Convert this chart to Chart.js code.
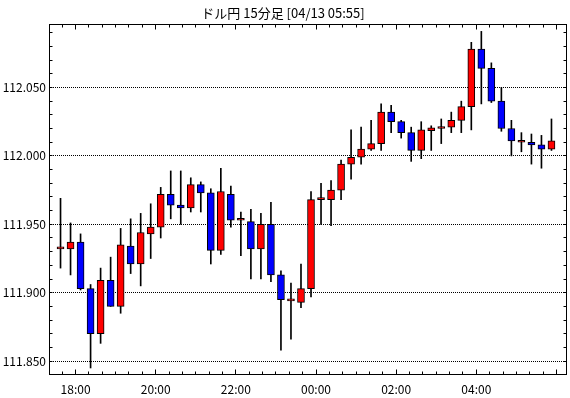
<!DOCTYPE html>
<html>
<head>
<meta charset="utf-8">
<script src="https://cdn.jsdelivr.net/npm/chart.js@4.4.0/dist/chart.umd.min.js"></script>
<style>
  html, body { margin: 0; padding: 0; background: #fff; }
  #chart { display: block; }
</style>
</head>
<body>
<canvas id="chart" width="570" height="398"></canvas>
<script>
const title = "ドル円 15分足 [04/13 05:55]"

// start of each 15 minute bar
const times = [
  "17:30", "17:45", "18:00", "18:15", "18:30", "18:45", "19:00", "19:15", "19:30", "19:45",
  "20:00", "20:15", "20:30", "20:45", "21:00", "21:15", "21:30", "21:45", "22:00", "22:15",
  "22:30", "22:45", "23:00", "23:15", "23:30", "23:45", "00:00", "00:15", "00:30", "00:45",
  "01:00", "01:15", "01:30", "01:45", "02:00", "02:15", "02:30", "02:45", "03:00", "03:15",
  "03:30", "03:45", "04:00", "04:15", "04:30", "04:45", "05:00", "05:15", "05:30", "05:45"
]
const opens = [
  111.932, 111.932, 111.937, 111.903, 111.870, 111.909, 111.890, 111.934, 111.921, 111.943,
  111.948, 111.972, 111.964, 111.962, 111.979, 111.973, 111.931, 111.972, 111.953, 111.952,
  111.932, 111.950, 111.913, 111.894, 111.893, 111.903, 111.968, 111.968, 111.975, 111.994,
  111.999, 112.005, 112.009, 112.032, 112.025, 112.017, 112.004, 112.0185, 112.020, 112.021,
  112.026, 112.036, 112.078, 112.064, 112.040, 112.020, 112.010, 112.010, 112.008, 112.005
]
const highs = [
  111.969, 111.951, 111.943, 111.906, 111.918, 111.926, 111.947, 111.954, 111.958, 111.965,
  111.977, 111.989, 111.989, 111.984, 111.981, 111.976, 111.991, 111.978, 111.959, 111.961,
  111.958, 111.966, 111.916, 111.907, 111.921, 111.974, 111.980, 111.982, 111.997, 112.019,
  112.021, 112.026, 112.038, 112.037, 112.026, 112.021, 112.025, 112.022, 112.027, 112.032,
  112.040, 112.083, 112.091, 112.068, 112.050, 112.026, 112.017, 112.016, 112.015, 112.027
]
const lows = [
  111.918, 111.913, 111.902, 111.845, 111.863, 111.890, 111.885, 111.914, 111.905, 111.925,
  111.940, 111.954, 111.950, 111.959, 111.959, 111.921, 111.928, 111.948, 111.927, 111.910,
  111.910, 111.908, 111.858, 111.866, 111.889, 111.897, 111.950, 111.949, 111.968, 111.983,
  111.994, 112.004, 112.004, 112.017, 112.013, 111.996, 111.998, 112.004, 112.009, 112.017,
  112.017, 112.019, 112.038, 112.039, 112.018, 112.000, 112.003, 111.994, 111.991, 112.004
]
const closes = [
  111.932, 111.937, 111.903, 111.870, 111.909, 111.890, 111.935, 111.921, 111.944, 111.948,
  111.972, 111.964, 111.962, 111.979, 111.973, 111.931, 111.974, 111.953, 111.953, 111.932,
  111.950, 111.913, 111.895, 111.894, 111.903, 111.968, 111.968, 111.975, 111.994, 111.999,
  112.005, 112.009, 112.032, 112.025, 112.017, 112.004, 112.019, 112.0205, 112.020, 112.026,
  112.036, 112.078, 112.064, 112.040, 112.020, 112.011, 112.010, 112.008, 112.005, 112.011
]

const xTickLabels = ["18:00", "20:00", "22:00", "00:00", "02:00", "04:00"]
const yTickLabels = ["111.850", "111.900", "111.950", "112.000", "112.050"]

const FONT = "'Liberation Sans Narrow', 'Arial Narrow', 'Noto Sans CJK JP', sans-serif"

// minutes after 18:00, hours before noon belong to the next day
const toMinutes = (s) => {
  let [h, m] = s.split(":").map(Number)
  if (h < 12) h += 24
  return (h - 18) * 60 + m
}
// bar sits in the middle of its slot
const xs = times.map(t => toMinutes(t) + 7.5)
const bodyColors = opens.map((o, i) => closes[i] >= o ? "#ff0000" : "#0000ff")

// frame plus the small inward tick marks on all four sides
const framePlugin = {
  id: "frame",
  afterDatasetsDraw(chart) {
    const { ctx, chartArea: a, scales } = chart
    const L = Math.floor(a.left) + 0.5, R = Math.floor(a.right) + 0.5
    const T = Math.floor(a.top) + 0.5, B = Math.floor(a.bottom) + 0.5
    ctx.save()
    ctx.strokeStyle = "#000"
    ctx.lineWidth = 1
    ctx.beginPath()
    for (let v = 111.85; v < scales.y.max; v += 0.01) {
      const y = Math.floor(scales.y.getPixelForValue(v)) + 0.5
      ctx.moveTo(L, y); ctx.lineTo(L + 3, y)
      ctx.moveTo(R, y); ctx.lineTo(R - 3, y)
    }
    for (let t = -20; t < scales.x.max; t += 20) {
      const x = Math.floor(scales.x.getPixelForValue(t)) + 0.5
      const len = t % 120 === 0 ? 5 : 3
      ctx.moveTo(x, B); ctx.lineTo(x, B - len)
      ctx.moveTo(x, T); ctx.lineTo(x, T + len)
    }
    ctx.stroke()
    ctx.strokeRect(L, T, R - L, B - T)
    ctx.restore()
  }
}

new Chart(document.getElementById("chart"), {
  type: "bar",
  data: {
    datasets: [
      {
        label: "body",
        data: xs.map((x, i) => ({ x, y: [opens[i], closes[i]] })),
        backgroundColor: bodyColors,
        borderColor: "#000",
        borderWidth: 1,
        borderSkipped: false,
        barThickness: 7,
        minBarLength: 2,
        grouped: false,
        order: 1
      },
      {
        label: "wick",
        data: xs.map((x, i) => ({ x, y: [lows[i], highs[i]] })),
        backgroundColor: "#000",
        borderWidth: 0,
        barThickness: 1,
        grouped: false,
        order: 2
      }
    ]
  },
  options: {
    responsive: false,
    animation: false,
    events: [],
    layout: { padding: { left: 0, right: 4, top: 0, bottom: 0 } },
    plugins: {
      legend: { display: false },
      tooltip: { enabled: false },
      title: {
        display: true,
        text: title,
        color: "#000",
        font: { family: FONT, size: 13, weight: "normal", lineHeight: 1.2 },
        padding: { top: 5, bottom: 3.4 }
      }
    },
    scales: {
      x: {
        type: "linear",
        min: -39.75,
        max: 734.25,
        offset: false,
        grid: { display: false, drawTicks: false },
        border: { display: false },
        afterBuildTicks: (s) => { s.ticks = xTickLabels.map(l => ({ value: toMinutes(l) })) },
        afterFit: (s) => { s.height = 24 },
        ticks: {
          callback: (v, i) => xTickLabels[i],
          color: "#000",
          font: { family: FONT, size: 12 },
          padding: 8,
          maxRotation: 0,
          autoSkip: false
        }
      },
      y: {
        min: 111.8406,
        max: 112.0964,
        grid: { color: "#000", lineWidth: 1, drawTicks: false },
        border: { display: false, dash: [1, 1] },
        afterBuildTicks: (s) => { s.ticks = yTickLabels.map(l => ({ value: parseFloat(l) })) },
        afterFit: (s) => { s.width = 49 },
        ticks: {
          callback: (v, i) => yTickLabels[i],
          color: "#000",
          font: { family: FONT, size: 12 },
          padding: 3
        }
      }
    }
  },
  plugins: [framePlugin]
})
</script>
</body>
</html>
